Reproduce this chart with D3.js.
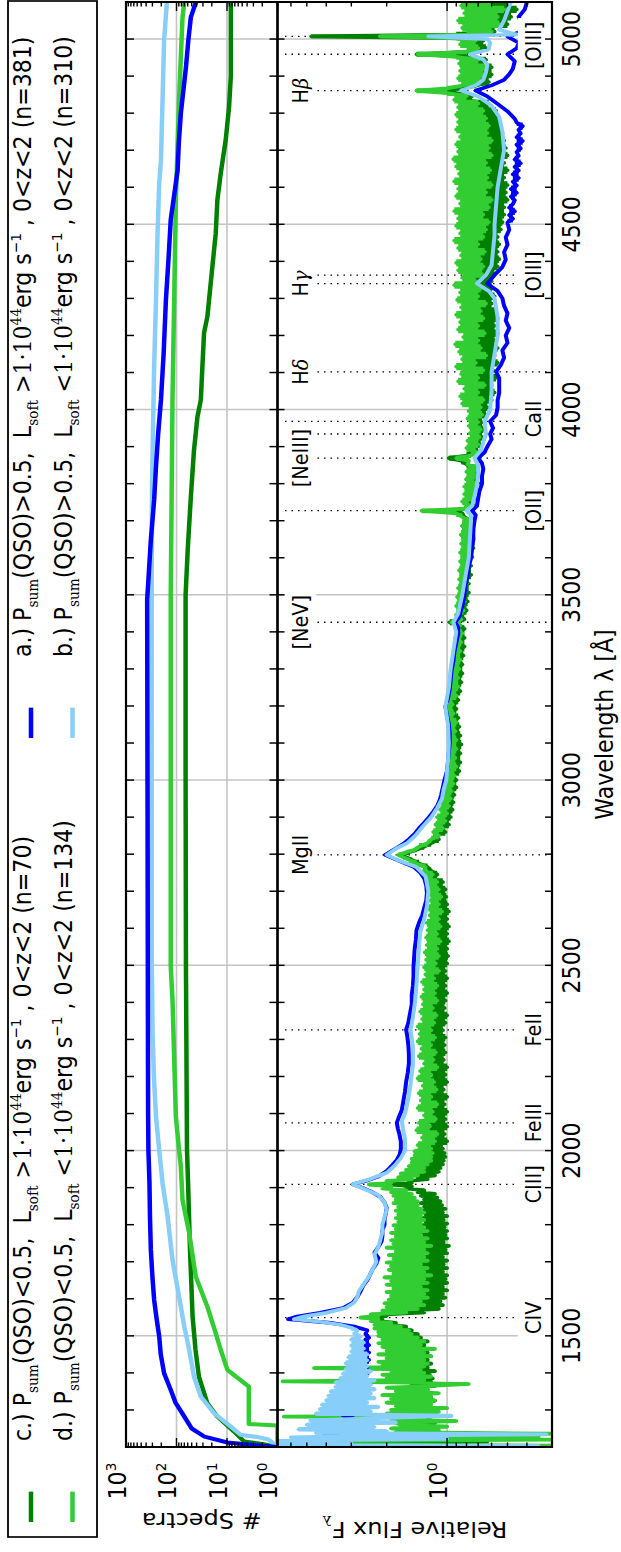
<!DOCTYPE html>
<html>
<head>
<meta charset="utf-8">
<script src="https://cdn.jsdelivr.net/npm/d3@7"></script>
<style>
  body { margin: 0; background: #fff; }
  svg { display: block; }
  text { font-family: "DejaVu Sans", sans-serif; fill: #000; white-space: pre; }
</style>
</head>
<body>
<svg id="fig" width="621" height="1552"></svg>
<script>

// ---- series ---------------------------------------------------------------

var seriesKeys = ['c', 'd', 'a', 'b'];
var seriesColor = { a: '#0000ff', b: '#87cefa', c: '#008000', d: '#32cd32' };

// cumulative number of spectra contributing at each wavelength [lambda, N]
var cumA = [[1200,1],[1205,3],[1212,9.8],[1228,28],[1250,50],[1282,70],[1320,105],[1354,130],[1399,176],[1450,205],[1498,220],[1550,250],[1597,277],[1660,300],[1732,322],[1820,335],[1913,343],[2002,360],[2100,365],[2500,370],[3000,375],[3486,381],[3648,322],[3756,277],[3845,255],[3937,230],[4026,203],[4150,180],[4296,162],[4400,145],[4512,130],[4646,95],[4720,90],[4800,82],[4924,65],[5000,58],[5059,52],[5100,41]];
var cumB = [[1200,1],[1220,1.5],[1227,2.5],[1233,5.4],[1255,8.4],[1291,18],[1336,33],[1390,45],[1462,56],[1525,70],[1606,89],[1705,120],[1822,150],[1912,189],[2002,220],[2092,255],[2200,280],[2318,298],[2542,310],[3000,310],[3500,310],[3800,305],[4026,285],[4115,277],[4296,255],[4476,237],[4611,220],[4673,203],[4835,189],[4997,176],[5100,155]];
var cumC = [[1200,1],[1208,2],[1215,4.6],[1242,7.3],[1282,15.5],[1318,24.5],[1390,36],[1462,42],[1552,48],[1732,54],[1912,59],[2002,62],[2500,65],[3000,66],[3500,66],[3621,60],[3764,52],[3891,45],[3980,38.5],[4026,33],[4207,28.5],[4250,24.5],[4341,21],[4476,16.7],[4566,15.5],[4638,13.3],[4728,10.6],[4817,9.1],[4900,8.4],[5100,8.4]];
var cumD = [[1200,1],[1258,1],[1262,3.7],[1363,3.7],[1408,9.8],[1462,13.3],[1507,16.7],[1579,24.5],[1660,41.6],[1777,56],[1867,76],[1957,82],[2002,89],[2092,103],[2407,120],[2497,130],[3500,130],[4026,120],[4566,103],[4835,89],[5059,76],[5100,70]];

// composite spectra, relative flux F_lambda [lambda, F]
var specA = [[1200,3.0],[1205,9],[1212,9],[1218,5.0],[1225,4.2],[1235,3.5],[1245,4.0],[1255,3.2],[1265,3.6],[1275,2.9],[1285,3.3],[1295,2.8],[1305,3.2],[1315,2.7],[1325,3.0],[1335,2.6],[1345,2.9],[1355,2.6],[1365,2.85],[1375,2.55],[1385,2.8],[1395,2.5],[1405,2.75],[1415,2.5],[1425,2.7],[1435,2.45],[1445,2.7],[1455,2.45],[1465,2.65],[1475,2.45],[1485,2.6],[1495,2.45],[1505,2.55],[1515,2.5],[1525,2.9],[1535,3.8],[1545,6.2],[1552,5.6],[1562,4.3],[1575,3.3],[1590,2.95],[1605,2.8],[1620,2.7],[1635,2.62],[1650,2.5],[1665,2.42],[1680,2.35],[1695,2.25],[1710,2.2],[1725,2.3],[1740,2.2],[1755,2.12],[1770,2.1],[1785,2.1],[1800,2.05],[1815,2.05],[1830,2.02],[1845,2.0],[1860,2.05],[1875,2.15],[1890,2.4],[1900,2.65],[1909,2.95],[1918,2.55],[1930,2.2],[1945,2.0],[1960,1.88],[1975,1.78],[1990,1.72],[2005,1.7],[2025,1.7],[2045,1.73],[2060,1.76],[2075,1.78],[2090,1.74],[2110,1.68],[2135,1.65],[2160,1.62],[2185,1.6],[2210,1.57],[2235,1.55],[2260,1.55],[2285,1.56],[2310,1.58],[2326,1.6],[2345,1.56],[2370,1.53],[2395,1.5],[2420,1.5],[2445,1.48],[2470,1.47],[2495,1.47],[2520,1.46],[2545,1.45],[2570,1.43],[2595,1.42],[2615,1.38],[2635,1.33],[2655,1.3],[2675,1.27],[2695,1.26],[2715,1.27],[2735,1.3],[2750,1.36],[2765,1.46],[2780,1.7],[2798,2.04],[2812,1.85],[2825,1.68],[2840,1.55],[2855,1.45],[2870,1.38],[2885,1.3],[2900,1.23],[2915,1.17],[2930,1.12],[2945,1.09],[2960,1.07],[2980,1.05],[3000,1.03],[3025,1.0],[3050,0.99],[3075,0.98],[3100,0.97],[3125,0.97],[3150,0.98],[3175,1.0],[3198,1.02],[3220,0.99],[3245,0.97],[3270,0.96],[3295,0.95],[3320,0.93],[3345,0.92],[3370,0.9],[3395,0.88],[3412,0.88],[3426,0.91],[3440,0.87],[3460,0.85],[3480,0.83],[3500,0.82],[3525,0.81],[3550,0.79],[3575,0.78],[3600,0.76],[3625,0.75],[3650,0.74],[3675,0.74],[3700,0.73],[3715,0.72],[3727,0.75],[3740,0.71],[3760,0.7],[3780,0.69],[3800,0.67],[3820,0.67],[3840,0.66],[3855,0.67],[3869,0.7],[3885,0.65],[3900,0.63],[3920,0.6],[3934,0.61],[3950,0.59],[3968,0.61],[3985,0.57],[4005,0.56],[4025,0.56],[4045,0.55],[4065,0.55],[4085,0.55],[4102,0.57],[4120,0.54],[4140,0.52],[4160,0.53],[4180,0.5],[4200,0.51],[4220,0.49],[4240,0.51],[4260,0.5],[4280,0.52],[4300,0.53],[4320,0.56],[4340,0.63],[4363,0.58],[4385,0.53],[4405,0.51],[4425,0.52],[4445,0.5],[4465,0.51],[4485,0.49],[4505,0.5],[4515,0.47],[4525,0.49],[4535,0.46],[4545,0.49],[4555,0.47],[4565,0.46],[4575,0.48],[4585,0.45],[4595,0.48],[4605,0.45],[4615,0.47],[4625,0.44],[4635,0.47],[4645,0.44],[4655,0.46],[4665,0.43],[4675,0.46],[4685,0.44],[4695,0.45],[4705,0.43],[4715,0.45],[4725,0.42],[4735,0.45],[4745,0.43],[4755,0.44],[4765,0.42],[4775,0.45],[4785,0.46],[4805,0.5],[4825,0.56],[4845,0.63],[4861,0.72],[4875,0.6],[4890,0.52],[4905,0.49],[4920,0.47],[4940,0.46],[4959,0.5],[4975,0.45],[4990,0.44],[5007,0.5],[5020,0.43],[5040,0.42],[5060,0.44],[5080,0.41],[5100,0.4]];

var specB = [[1200,2.0],[1203,0.35],[1206,9],[1210,3.0],[1214,9],[1218,5.0],[1222,1.0],[1226,6.0],[1230,2.5],[1234,0.32],[1238,4.5],[1242,2.0],[1248,5.5],[1254,2.3],[1260,5.0],[1266,1.8],[1272,4.8],[1278,2.2],[1284,0.95],[1290,4.5],[1296,2.4],[1302,4.3],[1308,2.2],[1314,4.2],[1320,2.5],[1326,4.0],[1332,2.3],[1338,3.9],[1344,2.4],[1350,3.8],[1356,2.3],[1362,3.6],[1368,2.4],[1374,3.6],[1380,2.3],[1386,3.4],[1392,2.5],[1398,3.3],[1404,2.4],[1410,3.2],[1418,2.5],[1426,3.2],[1434,2.5],[1442,3.1],[1450,2.5],[1458,3.0],[1466,2.6],[1474,3.0],[1482,2.6],[1490,3.0],[1498,2.7],[1506,2.9],[1514,2.8],[1522,3.0],[1530,3.4],[1538,4.3],[1545,5.8],[1552,5.2],[1562,4.0],[1575,3.2],[1590,2.9],[1605,2.8],[1620,2.75],[1640,2.6],[1660,2.45],[1680,2.35],[1700,2.25],[1720,2.3],[1740,2.2],[1760,2.15],[1780,2.1],[1800,2.1],[1820,2.05],[1840,2.0],[1860,2.05],[1880,2.2],[1895,2.55],[1909,2.95],[1922,2.45],[1940,2.0],[1960,1.82],[1980,1.7],[2000,1.62],[2030,1.62],[2060,1.66],[2080,1.68],[2100,1.62],[2140,1.56],[2180,1.52],[2230,1.48],[2280,1.48],[2326,1.52],[2360,1.48],[2407,1.44],[2450,1.42],[2500,1.4],[2550,1.38],[2590,1.36],[2625,1.3],[2660,1.26],[2700,1.24],[2740,1.28],[2765,1.42],[2785,1.78],[2798,2.0],[2815,1.8],[2830,1.58],[2850,1.44],[2875,1.32],[2900,1.2],[2925,1.12],[2950,1.06],[2975,1.04],[3000,1.01],[3050,0.99],[3100,0.98],[3150,0.99],[3198,1.02],[3250,0.98],[3300,0.96],[3350,0.93],[3400,0.9],[3426,0.93],[3450,0.88],[3500,0.84],[3550,0.81],[3600,0.78],[3650,0.77],[3700,0.76],[3715,0.76],[3727,0.8],[3740,0.75],[3780,0.72],[3820,0.7],[3850,0.7],[3869,0.73],[3890,0.68],[3934,0.64],[3968,0.65],[4000,0.61],[4050,0.6],[4102,0.6],[4150,0.58],[4200,0.56],[4250,0.56],[4300,0.58],[4320,0.62],[4340,0.71],[4363,0.64],[4390,0.6],[4430,0.59],[4470,0.58],[4500,0.58],[4550,0.57],[4600,0.56],[4650,0.54],[4700,0.52],[4750,0.53],[4790,0.55],[4820,0.6],[4845,0.7],[4861,0.85],[4875,0.72],[4890,0.66],[4910,0.64],[4930,0.63],[4945,0.66],[4959,0.77],[4972,0.62],[4990,0.61],[5000,0.63],[5007,1.24],[5012,0.45],[5025,0.55],[5050,0.52],[5075,0.5],[5100,0.48]];

var specC = [[1200,1.2],[1205,9],[1210,2.0],[1215,0.63],[1220,1.4],[1228,1.1],[1234,1.6],[1240,1.5],[1245,1.18],[1250,1.55],[1255,1.2],[1260,1.6],[1265,1.15],[1270,1.5],[1275,1.22],[1280,1.58],[1285,1.17],[1290,1.52],[1295,1.2],[1300,1.62],[1305,1.15],[1310,1.5],[1315,1.25],[1320,1.58],[1325,1.15],[1330,1.55],[1335,1.2],[1340,1.6],[1345,1.18],[1350,1.5],[1355,1.25],[1360,1.6],[1365,1.15],[1370,1.5],[1375,1.2],[1380,1.62],[1385,1.18],[1390,1.55],[1395,1.22],[1400,1.6],[1405,1.15],[1410,1.5],[1415,1.25],[1420,1.6],[1425,1.2],[1430,1.55],[1435,1.25],[1440,1.65],[1445,1.2],[1450,1.6],[1455,1.25],[1460,1.65],[1465,1.2],[1470,1.55],[1475,1.3],[1480,1.65],[1485,1.25],[1490,1.6],[1495,1.35],[1500,1.75],[1505,1.4],[1510,1.8],[1515,1.5],[1520,1.9],[1525,1.6],[1530,2.0],[1535,1.8],[1540,2.2],[1545,2.1],[1549,2.5],[1554,2.0],[1558,2.0],[1563,1.3],[1568,1.55],[1573,1.1],[1578,1.5],[1583,1.05],[1588,1.45],[1593,1.08],[1598,1.4],[1603,1.02],[1608,1.4],[1613,1.05],[1618,1.38],[1623,1.0],[1628,1.35],[1633,1.05],[1638,1.4],[1643,1.0],[1648,1.35],[1653,1.02],[1658,1.4],[1663,1.0],[1668,1.32],[1673,1.05],[1678,1.38],[1683,1.0],[1688,1.33],[1693,1.04],[1698,1.4],[1703,1.0],[1708,1.3],[1713,1.05],[1718,1.36],[1723,1.0],[1728,1.3],[1733,1.02],[1738,1.35],[1743,0.98],[1748,1.3],[1753,1.04],[1758,1.36],[1763,1.0],[1768,1.3],[1773,1.02],[1778,1.35],[1783,1.0],[1788,1.3],[1793,1.03],[1798,1.32],[1803,1.0],[1808,1.28],[1813,1.04],[1818,1.32],[1823,1.0],[1828,1.28],[1833,1.05],[1838,1.3],[1843,1.02],[1848,1.3],[1853,1.06],[1858,1.35],[1863,1.08],[1868,1.3],[1873,1.12],[1878,1.35],[1883,1.15],[1888,1.4],[1893,1.3],[1898,1.6],[1903,1.5],[1909,1.9],[1913,1.5],[1918,1.55],[1923,1.25],[1928,1.4],[1933,1.15],[1938,1.35],[1943,1.1],[1948,1.3],[1953,1.08],[1958,1.28],[1963,1.05],[1968,1.25],[1973,1.04],[1978,1.24],[1983,1.02],[1988,1.22],[1993,1.03],[1998,1.22],[2005,1.05],[2015,1.2],[2025,1.0],[2035,1.18],[2045,1.03],[2055,1.22],[2065,1.0],[2075,1.2],[2085,1.02],[2095,1.24],[2105,1.0],[2115,1.18],[2125,1.03],[2135,1.22],[2145,1.0],[2155,1.2],[2165,1.04],[2175,1.22],[2185,1.0],[2195,1.18],[2205,1.02],[2215,1.22],[2225,1.0],[2235,1.2],[2245,1.04],[2255,1.22],[2265,1.02],[2275,1.19],[2285,1.03],[2295,1.22],[2305,1.02],[2315,1.24],[2325,1.05],[2335,1.2],[2345,1.02],[2355,1.22],[2365,1.0],[2375,1.19],[2385,1.03],[2395,1.2],[2405,1.02],[2415,1.21],[2425,1.0],[2435,1.18],[2445,1.02],[2455,1.2],[2465,1.0],[2475,1.17],[2485,1.02],[2495,1.19],[2505,1.0],[2515,1.17],[2525,0.99],[2535,1.16],[2545,1.0],[2555,1.17],[2565,0.98],[2575,1.15],[2585,1.0],[2595,1.16],[2605,0.98],[2615,1.15],[2625,1.0],[2635,1.14],[2645,0.98],[2655,1.16],[2665,1.0],[2675,1.17],[2685,1.01],[2695,1.18],[2705,1.02],[2715,1.19],[2725,1.05],[2735,1.2],[2745,1.12],[2755,1.2],[2765,1.25],[2775,1.38],[2785,1.5],[2792,1.6],[2798,1.7],[2805,1.55],[2812,1.42],[2820,1.3],[2830,1.2],[2840,1.1],[2850,1.15],[2860,1.02],[2870,1.1],[2880,0.98],[2890,1.08],[2900,0.96],[2910,1.05],[2920,0.94],[2930,1.03],[2940,0.93],[2950,1.02],[2960,0.92],[2970,1.0],[2980,0.9],[2990,0.98],[3000,0.9],[3012,0.97],[3024,0.87],[3036,0.96],[3048,0.86],[3060,0.95],[3072,0.86],[3084,0.94],[3096,0.85],[3108,0.95],[3120,0.86],[3132,0.96],[3144,0.87],[3156,0.95],[3168,0.88],[3180,0.97],[3192,0.9],[3204,0.96],[3216,0.88],[3228,0.94],[3240,0.86],[3252,0.93],[3264,0.85],[3276,0.92],[3288,0.84],[3300,0.91],[3312,0.84],[3324,0.9],[3336,0.83],[3348,0.9],[3360,0.82],[3372,0.9],[3384,0.82],[3396,0.88],[3408,0.82],[3418,0.86],[3426,0.97],[3434,0.82],[3446,0.88],[3458,0.8],[3470,0.87],[3482,0.79],[3494,0.86],[3506,0.78],[3518,0.87],[3530,0.78],[3542,0.85],[3554,0.76],[3566,0.85],[3578,0.76],[3590,0.84],[3602,0.75],[3614,0.85],[3626,0.74],[3638,0.84],[3650,0.74],[3662,0.85],[3674,0.74],[3686,0.84],[3698,0.75],[3710,0.82],[3720,0.84],[3727,0.95],[3733,0.8],[3742,0.74],[3752,0.83],[3762,0.72],[3772,0.81],[3782,0.71],[3792,0.8],[3802,0.7],[3812,0.8],[3822,0.7],[3832,0.79],[3842,0.7],[3852,0.8],[3862,0.85],[3869,0.98],[3876,0.8],[3886,0.7],[3896,0.78],[3906,0.68],[3916,0.77],[3926,0.67],[3936,0.76],[3946,0.66],[3956,0.76],[3966,0.67],[3976,0.75],[3986,0.64],[3996,0.74],[4006,0.63],[4016,0.75],[4026,0.6],[4036,0.74],[4046,0.58],[4056,0.76],[4066,0.6],[4076,0.73],[4086,0.57],[4096,0.76],[4106,0.59],[4116,0.74],[4126,0.56],[4136,0.77],[4146,0.58],[4156,0.74],[4166,0.56],[4176,0.76],[4186,0.58],[4196,0.73],[4206,0.56],[4216,0.77],[4226,0.58],[4236,0.74],[4246,0.56],[4256,0.76],[4266,0.57],[4276,0.78],[4286,0.6],[4296,0.74],[4306,0.58],[4316,0.75],[4326,0.6],[4336,0.73],[4346,0.6],[4356,0.76],[4366,0.58],[4376,0.75],[4386,0.56],[4396,0.77],[4406,0.55],[4416,0.75],[4426,0.56],[4436,0.76],[4446,0.55],[4456,0.78],[4466,0.56],[4476,0.74],[4486,0.54],[4496,0.77],[4506,0.53],[4516,0.78],[4526,0.52],[4536,0.75],[4546,0.52],[4556,0.76],[4566,0.5],[4576,0.74],[4586,0.51],[4596,0.77],[4606,0.5],[4616,0.76],[4626,0.52],[4636,0.8],[4646,0.5],[4656,0.75],[4666,0.52],[4676,0.76],[4686,0.5],[4696,0.77],[4706,0.51],[4716,0.78],[4726,0.52],[4736,0.75],[4746,0.53],[4756,0.76],[4766,0.54],[4776,0.75],[4786,0.55],[4796,0.78],[4806,0.57],[4816,0.8],[4826,0.62],[4836,0.82],[4846,0.75],[4854,0.9],[4861,1.09],[4867,0.85],[4874,0.72],[4884,0.62],[4894,0.76],[4904,0.6],[4914,0.75],[4924,0.6],[4934,0.74],[4944,0.64],[4952,0.8],[4959,1.42],[4966,0.75],[4976,0.64],[4986,0.76],[4996,0.66],[5002,0.8],[5007,4.75],[5012,0.9],[5020,0.58],[5030,0.78],[5040,0.5],[5050,0.8],[5060,0.48],[5070,0.76],[5080,0.45],[5090,0.78],[5100,0.5]];

var specD = [[1200,1.0],[1204,0.3],[1208,6.0],[1212,9],[1216,3.5],[1220,0.3],[1224,5.0],[1228,0.35],[1232,2.5],[1236,0.3],[1240,1.8],[1245,1.1],[1250,1.9],[1255,1.0],[1260,1.7],[1265,1.8],[1270,0.9],[1275,1.9],[1280,1.3],[1282,6.5],[1285,1.2],[1290,2.0],[1295,1.1],[1300,1.9],[1305,1.0],[1310,1.8],[1315,1.2],[1320,2.0],[1325,1.15],[1330,1.9],[1335,1.2],[1340,2.1],[1345,1.1],[1350,1.8],[1355,1.25],[1360,2.0],[1365,1.2],[1370,0.78],[1374,1.9],[1377,6.6],[1381,1.3],[1385,2.0],[1390,1.2],[1395,2.1],[1400,1.3],[1405,1.9],[1409,1.35],[1413,4.6],[1417,1.3],[1420,2.1],[1425,1.25],[1430,2.2],[1435,1.3],[1440,2.0],[1445,1.2],[1450,2.2],[1455,1.3],[1460,2.0],[1465,1.15],[1470,2.1],[1475,1.35],[1480,2.2],[1485,1.3],[1490,2.1],[1495,1.4],[1500,2.2],[1505,1.5],[1510,2.2],[1515,1.55],[1520,2.3],[1525,1.7],[1530,2.3],[1535,1.9],[1540,2.4],[1545,2.2],[1549,2.7],[1554,2.2],[1558,2.4],[1563,1.6],[1568,2.1],[1573,1.4],[1578,2.0],[1583,1.3],[1588,2.05],[1593,1.35],[1598,1.95],[1603,1.25],[1608,1.9],[1613,1.3],[1618,2.0],[1623,1.25],[1628,1.85],[1633,1.35],[1638,2.0],[1643,1.25],[1648,1.9],[1653,1.3],[1658,2.05],[1663,1.2],[1668,1.85],[1673,1.3],[1678,1.95],[1683,1.25],[1688,1.9],[1693,1.35],[1698,2.0],[1703,1.25],[1708,1.85],[1713,1.3],[1718,1.95],[1723,1.25],[1728,1.8],[1733,1.3],[1738,2.0],[1743,1.2],[1748,1.85],[1753,1.3],[1758,1.9],[1763,1.25],[1768,1.8],[1773,1.35],[1778,1.9],[1783,1.25],[1788,1.8],[1793,1.3],[1798,1.85],[1803,1.35],[1808,1.75],[1813,1.3],[1818,1.8],[1823,1.35],[1828,1.75],[1833,1.3],[1838,1.8],[1843,1.35],[1848,1.75],[1853,1.4],[1858,1.85],[1863,1.4],[1868,1.8],[1873,1.45],[1878,1.85],[1883,1.5],[1888,1.9],[1893,1.6],[1898,2.1],[1903,1.9],[1909,2.45],[1913,1.9],[1918,2.0],[1923,1.5],[1928,1.75],[1933,1.4],[1938,1.7],[1943,1.3],[1948,1.6],[1953,1.3],[1958,1.55],[1963,1.25],[1968,1.5],[1973,1.2],[1978,1.5],[1983,1.2],[1988,1.45],[1993,1.18],[1998,1.45],[2005,1.2],[2015,1.4],[2025,1.15],[2035,1.33],[2045,1.12],[2055,1.42],[2065,1.22],[2075,1.38],[2085,1.14],[2095,1.3],[2105,1.18],[2115,1.4],[2125,1.12],[2135,1.35],[2145,1.2],[2155,1.38],[2165,1.13],[2175,1.32],[2185,1.16],[2195,1.4],[2205,1.2],[2215,1.36],[2225,1.12],[2235,1.3],[2245,1.17],[2255,1.38],[2265,1.14],[2275,1.34],[2285,1.2],[2295,1.4],[2305,1.15],[2315,1.37],[2325,1.2],[2335,1.4],[2345,1.16],[2355,1.33],[2365,1.13],[2375,1.36],[2385,1.18],[2395,1.32],[2405,1.12],[2415,1.34],[2425,1.15],[2435,1.3],[2445,1.12],[2455,1.33],[2465,1.16],[2475,1.28],[2485,1.1],[2495,1.3],[2505,1.14],[2515,1.27],[2525,1.1],[2535,1.29],[2545,1.12],[2555,1.26],[2565,1.08],[2575,1.27],[2585,1.12],[2595,1.25],[2605,1.08],[2615,1.26],[2625,1.1],[2635,1.22],[2645,1.06],[2655,1.24],[2665,1.1],[2675,1.21],[2685,1.07],[2695,1.23],[2705,1.1],[2715,1.25],[2725,1.12],[2735,1.27],[2745,1.18],[2755,1.3],[2765,1.28],[2775,1.42],[2785,1.55],[2792,1.66],[2798,1.75],[2805,1.6],[2812,1.45],[2820,1.38],[2830,1.25],[2840,1.2],[2850,1.1],[2860,1.17],[2870,1.05],[2880,1.14],[2890,1.02],[2900,1.12],[2910,1.0],[2920,1.08],[2930,0.98],[2940,1.07],[2950,0.96],[2960,1.04],[2970,0.95],[2980,1.03],[2990,0.93],[3000,1.0],[3012,0.92],[3024,0.99],[3036,0.9],[3048,0.97],[3060,0.91],[3072,0.98],[3084,0.9],[3096,0.96],[3108,0.9],[3120,0.97],[3132,0.91],[3144,0.96],[3156,0.9],[3168,0.98],[3180,0.93],[3192,1.0],[3204,0.94],[3216,0.98],[3228,0.9],[3240,0.96],[3252,0.88],[3264,0.95],[3276,0.88],[3288,0.94],[3300,0.87],[3312,0.93],[3324,0.86],[3336,0.92],[3348,0.86],[3360,0.92],[3372,0.85],[3384,0.91],[3396,0.84],[3408,0.9],[3418,0.86],[3426,0.95],[3434,0.85],[3446,0.9],[3458,0.83],[3470,0.9],[3482,0.82],[3494,0.89],[3506,0.82],[3518,0.88],[3530,0.8],[3542,0.87],[3554,0.8],[3566,0.87],[3578,0.79],[3590,0.86],[3602,0.78],[3614,0.86],[3626,0.77],[3638,0.85],[3650,0.77],[3662,0.85],[3674,0.76],[3686,0.84],[3698,0.77],[3710,0.84],[3720,0.9],[3727,1.34],[3733,0.82],[3742,0.78],[3752,0.84],[3762,0.74],[3772,0.82],[3782,0.73],[3792,0.82],[3802,0.73],[3812,0.8],[3822,0.72],[3832,0.8],[3842,0.71],[3852,0.79],[3862,0.78],[3869,0.9],[3876,0.76],[3886,0.72],[3896,0.8],[3906,0.7],[3916,0.79],[3926,0.69],[3936,0.77],[3946,0.68],[3956,0.78],[3966,0.7],[3976,0.79],[3986,0.67],[3996,0.78],[4006,0.68],[4016,0.84],[4026,0.66],[4036,0.86],[4046,0.7],[4056,0.82],[4066,0.65],[4076,0.88],[4086,0.7],[4096,0.85],[4106,0.66],[4116,0.9],[4126,0.72],[4136,0.84],[4146,0.64],[4156,0.87],[4166,0.68],[4176,0.91],[4186,0.7],[4196,0.83],[4206,0.65],[4216,0.88],[4226,0.7],[4236,0.86],[4246,0.66],[4256,0.9],[4266,0.68],[4276,0.85],[4286,0.64],[4296,0.89],[4306,0.7],[4316,0.86],[4326,0.68],[4336,0.92],[4346,0.72],[4356,0.84],[4366,0.67],[4376,0.88],[4386,0.66],[4396,0.9],[4406,0.68],[4416,0.85],[4426,0.65],[4436,0.88],[4446,0.7],[4456,0.92],[4466,0.66],[4476,0.86],[4486,0.64],[4496,0.9],[4506,0.62],[4516,0.88],[4526,0.66],[4536,0.92],[4546,0.62],[4556,0.86],[4566,0.6],[4576,0.9],[4586,0.64],[4596,0.88],[4606,0.6],[4616,0.92],[4626,0.63],[4636,0.87],[4646,0.61],[4656,0.9],[4666,0.64],[4676,0.93],[4686,0.6],[4696,0.88],[4706,0.62],[4716,0.9],[4726,0.6],[4736,0.86],[4746,0.63],[4756,0.9],[4766,0.62],[4776,0.88],[4786,0.64],[4796,0.9],[4806,0.66],[4816,0.88],[4826,0.7],[4836,0.92],[4846,0.8],[4854,1.0],[4861,1.42],[4867,1.0],[4874,0.85],[4884,0.68],[4894,0.88],[4904,0.66],[4914,0.86],[4924,0.64],[4934,0.87],[4944,0.7],[4952,0.9],[4959,1.4],[4966,0.8],[4976,0.7],[4986,0.86],[4996,0.72],[5002,0.9],[5007,2.16],[5012,0.8],[5020,0.6],[5030,0.84],[5040,0.55],[5050,0.88],[5060,0.56],[5070,0.82],[5080,0.52],[5090,0.85],[5100,0.6]];

var cumulative = { a: cumA, b: cumB, c: cumC, d: cumD };
var spectra = { a: specA, b: specB, c: specC, d: specD };

// wavelength ranges where a spectrum is noise-dominated and reads as a solid band
var noisyRanges = {
  a: [[1200, 1530], [4505, 4790]],
  b: [[1200, 1530]],
  c: [[1200, 5100]],
  d: [[1200, 5100]]
};

// emission lines: rest wavelengths marked with dotted lines
var lineWaves = [1549, 1909, 2075, 2326, 2798, 3426, 3727, 3869, 3934, 3968, 4102, 4340, 4363, 4861, 4959, 5007];
// line labels: text, wavelength, row ('hi' near top of panel, 'lo' near bottom)
var lineLabels = [
  ['CIV', 1549, 'lo'], ['CIII]', 1909, 'lo'], ['FeIII', 2075, 'lo'], ['FeII', 2326, 'lo'],
  ['MgII', 2798, 'hi'], ['[NeV]', 3426, 'hi'], ['[OII]', 3727, 'lo'], ['[NeIII]', 3869, 'hi'],
  ['CaII', 3975, 'lo'], ['H|δ', 4102, 'hi'], ['H|γ', 4340, 'hi'], ['[OIII]', 4363, 'lo'],
  ['H|β', 4861, 'hi'], ['[OIII]', 4983, 'lo']
];

var waveTicks = [1500, 2000, 2500, 3000, 3500, 4000, 4500, 5000];
var countTicks = [1, 10, 100, 1000];
var fluxTicks = [1];

var legendRows = {
  c: ['c.)', '<0.5', '>', '70'],
  d: ['d.)', '<0.5', '<', '134'],
  a: ['a.)', '>0.5', '>', '381'],
  b: ['b.)', '>0.5', '<', '310']
};

// ---- layout ---------------------------------------------------------------
// The figure is laid out landscape and turned a quarter turn onto the page.

var W = 621, H = 1552, SQ = 0.92;
function along(yPage) { return (H - yPage) / SQ; }

var svg = d3.select('#fig');
svg.append('rect').attr('width', W).attr('height', H).attr('fill', '#fff');
var fig = svg.append('g')
  .attr('transform', 'translate(0,' + H + ') rotate(-90) scale(' + SQ + ',1)');

var X0 = along(1447), X1 = along(2);
var TOP = { y0: 126, y1: 277.5 };
var BOT = { y0: 277.5, y1: 552 };

var x = d3.scaleLinear().domain([1200, 5100]).range([X0, X1]);
var yN = d3.scaleLog().domain([1, 1000]).range([TOP.y1, TOP.y0]);
var yF = d3.scaleLog().domain([0.3, 7]).range([BOT.y1, BOT.y0]);

var GRID = '#c4c4c4';

var defs = svg.append('defs');
defs.append('clipPath').attr('id', 'clipTop').append('rect')
  .attr('x', X0).attr('y', TOP.y0).attr('width', X1 - X0).attr('height', TOP.y1 - TOP.y0);
defs.append('clipPath').attr('id', 'clipBot').append('rect')
  .attr('x', X0).attr('y', BOT.y0).attr('width', X1 - X0).attr('height', BOT.y1 - BOT.y0);

// mixed text with sub/superscripts; parts: [text, kind, serif]
function rich(sel, parts, size) {
  var base = 0;
  parts.forEach(function (p) {
    var kind = p[1] || '';
    var off = kind === 'sub' ? 0.28 * size : kind === 'sup' ? -0.42 * size : 0;
    var t = sel.append('tspan')
      .attr('dy', off - base)
      .attr('font-size', kind ? size * 0.62 : size)
      .text(p[0]);
    if (p[2]) t.attr('font-family', '"DejaVu Serif", serif');
    base = off;
  });
  return sel;
}

// ---- grid -----------------------------------------------------------------

function drawGrid(g, yScale, panel, yVals) {
  g.selectAll('.gx').data(waveTicks).enter().append('line')
    .attr('x1', x).attr('x2', x)
    .attr('y1', panel.y0).attr('y2', panel.y1)
    .attr('stroke', GRID).attr('stroke-width', 1.6);
  g.selectAll('.gy').data(yVals).enter().append('line')
    .attr('x1', X0).attr('x2', X1)
    .attr('y1', yScale).attr('y2', yScale)
    .attr('stroke', GRID).attr('stroke-width', 1.6);
}

var gTop = fig.append('g');
var gBot = fig.append('g');

drawGrid(gTop, yN, TOP, [10, 100]);
drawGrid(gBot, yF, BOT, [1]);

// ---- top panel: number of spectra ------------------------------------------

var lineN = d3.line().x(function (d) { return x(d[0]); }).y(function (d) { return yN(d[1]); });
gTop.append('g').attr('clip-path', 'url(#clipTop)')
  .selectAll('path').data(['c', 'd', 'b', 'a']).enter().append('path')
  .attr('d', function (k) { return lineN(cumulative[k]); })
  .attr('fill', 'none')
  .attr('stroke', function (k) { return seriesColor[k]; })
  .attr('stroke-width', 4.5)
  .attr('stroke-linejoin', 'round');

// ---- bottom panel: composite spectra ------------------------------------

gBot.append('g').selectAll('line').data(lineWaves).enter().append('line')
  .attr('x1', x).attr('x2', x)
  .attr('y1', 285).attr('y2', BOT.y1)
  .attr('stroke', '#000').attr('stroke-width', 1.4)
  .attr('stroke-dasharray', '1.5,5');

function fluxY(v) { return yF(Math.min(v, 20)); }

var lineF = d3.line()
  .x(function (d) { return x(d[0]); })
  .y(function (d) { return fluxY(d[1]); });

// in noisy stretches, the span between consecutive samples is filled so the
// unresolved pixel-to-pixel scatter shows as a band rather than a sawtooth
var bandF = d3.area()
  .curve(d3.curveStepAfter)
  .defined(function (d) { return d.on; })
  .x(function (d) { return x(d.w); })
  .y0(function (d) { return fluxY(d.lo); })
  .y1(function (d) { return fluxY(d.hi); });

function bandSegments(k) {
  var s = spectra[k];
  var ranges = noisyRanges[k];
  return s.map(function (p, i) {
    var q = s[Math.min(i + 1, s.length - 1)];
    var on = ranges.some(function (r) { return p[0] >= r[0] && q[0] <= r[1]; });
    return { w: p[0], lo: Math.min(p[1], q[1]), hi: Math.max(p[1], q[1]), on: on };
  });
}

var gSpec = gBot.append('g').attr('clip-path', 'url(#clipBot)');
seriesKeys.forEach(function (k) {
  var g = gSpec.append('g');
  g.append('path')
    .attr('d', bandF(bandSegments(k)))
    .attr('fill', seriesColor[k]);
  g.append('path')
    .attr('d', lineF(spectra[k]))
    .attr('fill', 'none')
    .attr('stroke', seriesColor[k])
    .attr('stroke-width', 4)
    .attr('stroke-linejoin', 'round');
});

// line labels on white boxes
var gLab = gBot.append('g');
lineLabels.forEach(function (l) {
  var grp = gLab.append('g');
  var yc = l[2] === 'hi' ? 300 : 533;
  var txt = grp.append('text')
    .attr('x', x(l[1])).attr('y', yc).attr('dy', '0.36em')
    .attr('text-anchor', 'middle').attr('font-size', 21);
  if (l[0].indexOf('|') > 0) {
    var p = l[0].split('|');
    txt.append('tspan').text(p[0]);
    txt.append('tspan').attr('font-family', '"DejaVu Serif", serif')
      .attr('font-style', 'italic').text(p[1]);
  } else {
    txt.text(l[0]);
  }
  var bb = txt.node().getBBox();
  grp.insert('rect', 'text')
    .attr('x', bb.x - 4).attr('y', bb.y - 3)
    .attr('width', bb.width + 8).attr('height', bb.height + 6)
    .attr('fill', '#fff');
});

// ---- axes: ticks and frames ------------------------------------------------

var minorWave = d3.range(1200, 5101, 100);

function xTicks(yPos, dir, len) {
  fig.append('g').selectAll('line').data(minorWave).enter().append('line')
    .attr('x1', x).attr('x2', x)
    .attr('y1', yPos).attr('y2', yPos + dir * len)
    .attr('stroke', '#000').attr('stroke-width', 1.6);
}
xTicks(TOP.y0, 1, 8);
xTicks(TOP.y1, -1, 8);
xTicks(BOT.y0, 1, 7);
xTicks(BOT.y1, -1, 7);

function logTicks(lo, hi) {
  var out = [];
  for (var e = Math.floor(Math.log10(lo)); e <= Math.ceil(Math.log10(hi)); e++) {
    for (var m = 1; m < 10; m++) {
      var v = m * Math.pow(10, e);
      if (v >= lo * 0.999 && v <= hi * 1.001) out.push({ v: v, major: m === 1 });
    }
  }
  return out;
}

function yTicks(scale, lo, hi) {
  var t = logTicks(lo, hi);
  [[X0, 1], [X1, -1]].forEach(function (side) {
    fig.append('g').selectAll('line').data(t).enter().append('line')
      .attr('x1', side[0])
      .attr('x2', function (d) { return side[0] + side[1] * (d.major ? 9 : 4.5) / SQ; })
      .attr('y1', function (d) { return scale(d.v); })
      .attr('y2', function (d) { return scale(d.v); })
      .attr('stroke', '#000').attr('stroke-width', 1.4);
  });
}
yTicks(yN, 1, 1000);
yTicks(yF, 0.3, 7);

[TOP, BOT].forEach(function (p) {
  fig.append('rect')
    .attr('x', X0).attr('y', p.y0)
    .attr('width', X1 - X0).attr('height', p.y1 - p.y0)
    .attr('fill', 'none').attr('stroke', '#000').attr('stroke-width', 2.2);
});

// tick labels
fig.append('g').selectAll('text').data(waveTicks).enter().append('text')
  .attr('x', x).attr('y', 571).attr('dy', '0.36em')
  .attr('text-anchor', 'middle').attr('font-size', 24)
  .text(function (d) { return d; });

function powLabel(v, yPos) {
  var t = fig.append('text')
    .attr('x', X0 - 17).attr('y', yPos).attr('dy', '0.36em')
    .attr('text-anchor', 'end');
  rich(t, [['10'], [String(Math.round(Math.log10(v))), 'sup']], 24);
}
countTicks.forEach(function (v) { powLabel(v, yN(v)); });
fluxTicks.forEach(function (v) { powLabel(v, yF(v)); });

// axis titles
fig.append('text')
  .attr('transform', 'translate(' + (X0 - 80) + ',' + ((TOP.y0 + TOP.y1) / 2) + ') rotate(-90)')
  .attr('text-anchor', 'middle').attr('dy', '0.36em').attr('font-size', 24)
  .text('# Spectra');

var fl = fig.append('text')
  .attr('transform', 'translate(' + (X0 - 82) + ',' + ((BOT.y0 + BOT.y1) / 2) + ') rotate(-90)')
  .attr('text-anchor', 'middle').attr('dy', '0.36em');
rich(fl, [['Relative Flux F'], ['λ', 'sub', true]], 24);

fig.append('text')
  .attr('x', x(3150)).attr('y', 604).attr('dy', '0.36em')
  .attr('text-anchor', 'middle').attr('font-size', 24)
  .text('Wavelength λ [Å]');

// ---- legend -----------------------------------------------------------------

var leg = fig.append('g');
leg.append('rect')
  .attr('x', along(1537)).attr('y', 8)
  .attr('width', along(1) - along(1537)).attr('height', 89)
  .attr('fill', '#fff').attr('stroke', '#000').attr('stroke-width', 1.8);

var legendSlots = [
  { k: 'c', x: along(1522), row: 31 },
  { k: 'd', x: along(1522), row: 72.5 },
  { k: 'a', x: along(738), row: 31 },
  { k: 'b', x: along(738), row: 72.5 }
];
legendSlots.forEach(function (s) {
  var r = legendRows[s.k];
  leg.append('line')
    .attr('x1', s.x).attr('x2', s.x + 33)
    .attr('y1', s.row).attr('y2', s.row)
    .attr('stroke', seriesColor[s.k]).attr('stroke-width', 4.5);
  var t = leg.append('text')
    .attr('x', s.x + 88).attr('y', s.row).attr('dy', '0.36em');
  rich(t, [
    [r[0] + ' P'], ['sum', 'sub', true], ['(QSO)' + r[1] + ',  L'], ['soft', 'sub', true],
    [' ' + r[2] + '1·10', '', true], ['44', 'sup', true], ['erg s'], ['−1', 'sup'],
    [' , 0<z<2 (n=' + r[3] + ')']
  ], 24);
});

</script>
</body>
</html>
